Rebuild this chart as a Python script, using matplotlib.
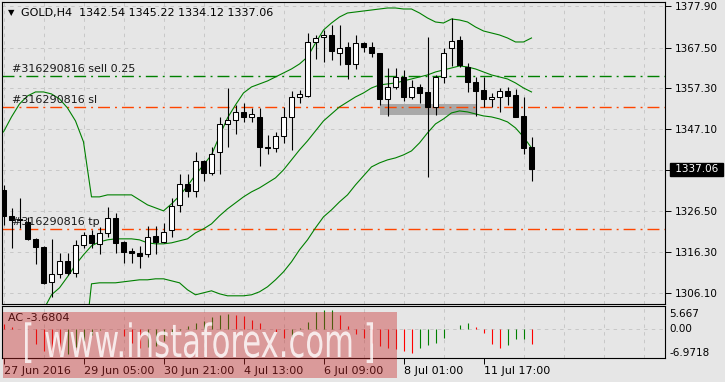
import numpy as np
import matplotlib
matplotlib.use('Agg')
import matplotlib.pyplot as plt
import matplotlib.transforms as mtransforms
from matplotlib.patches import Rectangle, PathPatch
from matplotlib.textpath import TextPath
from matplotlib.font_manager import FontProperties

# GOLD H4 bars, 27 Jun - 12 Jul 2016
opens = [1331.9, 1325.4, 1324.65, 1323.9, 1319.65, 1317.65, 1308.9, 1310.9, 1314.15, 1311.15,
         1318.15, 1320.65, 1318.4, 1321.15, 1324.9, 1318.9, 1316.65, 1316.15, 1315.9, 1320.4,
         1318.9, 1321.9, 1328.15, 1333.4, 1331.65, 1339.15, 1336.15, 1341.4, 1348.4, 1349.4,
         1351.4, 1350.15, 1350.15, 1342.65, 1342.4, 1345.4, 1350.15, 1355.15, 1355.4, 1368.9,
         1370.15, 1370.65, 1366.15, 1367.65, 1363.4, 1368.65, 1367.65, 1366.15, 1354.65, 1357.65,
         1360.15, 1355.15, 1357.65, 1356.4, 1352.65, 1360.15, 1367.4, 1369.4, 1362.65, 1358.9,
         1356.9, 1354.65, 1355.15, 1356.65, 1355.65, 1350.4, 1342.54]
highs = [1333.15, 1327.3, 1329.9, 1325.15, 1319.9, 1317.9, 1319.65, 1316.15, 1316.15, 1319.4,
         1321.4, 1321.9, 1322.65, 1327.65, 1326.15, 1319.15, 1317.4, 1317.9, 1322.9, 1322.9,
         1323.65, 1329.9, 1335.9, 1335.9, 1341.4, 1339.4, 1342.65, 1350.15, 1357.4, 1353.15,
         1353.65, 1352.4, 1352.4, 1345.65, 1346.4, 1352.65, 1356.65, 1356.9, 1371.15, 1370.65,
         1371.9, 1373.15, 1373.15, 1368.9, 1370.65, 1368.9, 1368.9, 1366.15, 1362.4, 1362.4,
         1361.9, 1359.4, 1358.4, 1370.15, 1360.65, 1367.4, 1374.9, 1370.4, 1363.65, 1360.15,
         1360.15, 1356.15, 1357.4, 1357.65, 1357.15, 1355.15, 1345.22]
lows = [1323.15, 1317.3, 1322.4, 1319.4, 1313.4, 1308.4, 1305.15, 1309.9, 1310.65, 1310.15,
        1317.4, 1317.4, 1315.9, 1320.15, 1316.15, 1313.65, 1313.65, 1312.4, 1315.15, 1315.9,
        1318.65, 1320.15, 1326.4, 1330.15, 1330.15, 1334.15, 1335.65, 1335.9, 1342.65, 1345.9,
        1348.9, 1348.9, 1337.9, 1340.9, 1341.4, 1343.65, 1341.9, 1353.65, 1355.15, 1364.65,
        1363.9, 1364.4, 1363.15, 1359.65, 1362.15, 1366.4, 1365.15, 1353.15, 1350.4, 1357.15,
        1354.15, 1354.65, 1353.65, 1335.15, 1350.65, 1358.65, 1362.9, 1362.65, 1356.4, 1350.4,
        1352.65, 1352.65, 1351.4, 1353.15, 1350.15, 1340.9, 1334.12]
closes = [1325.4, 1324.3, 1324.4, 1319.65, 1317.65, 1308.65, 1310.9, 1314.15, 1311.15, 1318.15,
          1320.65, 1318.65, 1321.15, 1324.9, 1318.65, 1316.4, 1316.15, 1315.4, 1320.15, 1318.9,
          1321.4, 1327.9, 1333.4, 1331.65, 1339.15, 1336.15, 1340.9, 1348.4, 1349.4, 1351.4,
          1350.15, 1350.9, 1342.65, 1342.4, 1345.4, 1350.15, 1355.15, 1355.9, 1368.9, 1369.9,
          1370.65, 1366.65, 1367.4, 1363.4, 1368.65, 1367.65, 1366.15, 1354.65, 1357.65, 1360.15,
          1355.15, 1357.65, 1356.15, 1352.65, 1360.15, 1366.15, 1369.15, 1363.15, 1358.9, 1356.65,
          1354.65, 1355.15, 1356.65, 1355.4, 1350.15, 1342.4, 1337.06]

# Bollinger bands (nan = below the visible range)
bb_upper = [1346.4, 1350.15, 1353.4, 1355.4, 1356.4, 1356.4, 1355.9, 1354.65, 1352.4, 1349.15,
            1343.9, 1330.15, 1330.15, 1330.65, 1330.65, 1330.65, 1330.65, 1329.4, 1328.15, 1327.4,
            1326.65, 1328.4, 1330.4, 1332.9, 1335.65, 1338.15, 1340.65, 1345.4, 1349.9, 1353.15,
            1356.15, 1357.65, 1358.4, 1359.15, 1360.15, 1361.15, 1362.15, 1363.4, 1365.15, 1368.65,
            1371.9, 1373.65, 1375.15, 1376.15, 1376.4, 1376.65, 1376.9, 1377.15, 1377.4, 1377.4,
            1377.15, 1377.15, 1376.15, 1374.9, 1373.9, 1373.65, 1374.65, 1374.4, 1373.9, 1372.65,
            1371.65, 1371.15, 1370.65, 1369.9, 1368.9, 1368.9, 1369.9]
bb_mid = [np.nan, np.nan, np.nan, np.nan, np.nan, 1301.9, 1305.65, 1307.4, 1310.15, 1313.15,
          1315.65, 1317.9, 1318.9, 1319.4, 1319.65, 1319.65, 1319.65, 1319.4, 1318.65, 1318.4,
          1318.4, 1318.65, 1319.15, 1319.65, 1321.15, 1322.15, 1323.4, 1325.4, 1327.15, 1328.65,
          1330.15, 1331.4, 1332.4, 1333.65, 1334.9, 1336.9, 1339.4, 1341.9, 1344.15, 1346.65,
          1349.15, 1350.9, 1352.65, 1353.9, 1355.15, 1356.15, 1357.4, 1358.15, 1358.4, 1358.65,
          1359.15, 1359.65, 1360.15, 1360.65, 1361.4, 1361.9, 1362.4, 1362.9, 1362.65, 1362.15,
          1361.4, 1360.65, 1360.15, 1359.65, 1358.65, 1357.4, 1356.4]
bb_lower = [np.nan, np.nan, np.nan, np.nan, np.nan, np.nan, np.nan, np.nan, np.nan, np.nan,
            1290.0, 1308.4, 1308.65, 1308.65, 1308.65, 1308.9, 1309.15, 1309.4, 1309.4, 1309.65,
            1309.65, 1309.15, 1308.65, 1306.9, 1305.65, 1306.15, 1306.65, 1305.9, 1305.4, 1305.4,
            1305.4, 1305.65, 1306.4, 1307.65, 1309.4, 1311.4, 1313.9, 1316.9, 1319.4, 1322.4,
            1325.15, 1326.9, 1328.9, 1330.65, 1333.15, 1335.4, 1337.65, 1338.65, 1339.4, 1339.9,
            1340.65, 1341.65, 1343.65, 1346.15, 1348.4, 1349.65, 1351.15, 1351.65, 1351.4, 1350.9,
            1350.4, 1350.15, 1349.65, 1348.9, 1347.4, 1345.15, 1342.4]

# Accelerator oscillator
ac = [1.2, 0.6, 0.1, -0.1, -3.7, -5.3, -5.8, -6.4, -6.1, -4.3,
      -2.9, -1.5, -0.3, 0.1, -0.1, -1.6, -3.4, -4.6, -4.5, -4.2,
      -2.9, -1.2, -0.15, 0.85, 1.4, 2.1, 2.95, 3.4, 3.7, 3.5,
      3.25, 2.3, 1.5, 0.1, -0.6, -2.1, -1.9, 0.3, 1.8, 4.1,
      4.6, 4.75, 3.45, 0.8, -1.15, -2.2, -3.5, -4.1, -4.6, -4.85,
      -5.3, -5.8, -4.75, -4.0, -3.4, -2.1, 0.05, 0.98, 1.47, 0.55,
      -1.07, -3.7, -4.67, -3.85, -2.5, -2.4, -3.6804]
ac_max, ac_min = 5.667, -6.9718

price_ticks = [1377.90, 1367.50, 1357.30, 1347.10, 1336.80, 1326.50, 1316.30, 1306.10]
price_labels = ['1377.90', '1367.50', '1357.30', '1347.10', '', '1326.50', '1316.30', '1306.10']
last_price = 1337.06

date_pos = [0, 10, 20, 30, 40, 50, 60]
date_labels = ['27 Jun 2016', '29 Jun 05:00', '30 Jun 21:00', '4 Jul 13:00',
               '6 Jul 09:00', '8 Jul 01:00', '11 Jul 17:00']

order_levels = [1360.31, 1352.56, 1322.04]
order_names = ['#316290816 sell 0.25', '#316290816 sl', '#316290816 tp']
order_colors = ['#008000', '#FF4500', '#FF4500']

zone_start, zone_end = 47, 59
zone_low, zone_high = 1350.63, 1353.38

header = 'GOLD,H4  1342.54 1345.22 1334.12 1337.06'

plt.rcParams['font.family'] = 'DejaVu Sans'
plt.rcParams['lines.scale_dashes'] = False

W, H = 725, 382
bg = '#E6E6E6'
gridc = '#C8C8C8'
grid_ls = (0, (2.5, 3))

fig = plt.figure(figsize=(W / 100, H / 100), dpi=100, facecolor=bg)
ax = fig.add_axes([2 / W, 78 / H, 663 / W, 302 / H], facecolor=bg)
ax2 = fig.add_axes([2 / W, 24.5 / H, 663 / W, 51.5 / H], facecolor=bg)

x = np.arange(len(opens))
o = np.array(opens)
c = np.array(closes)
xlim = (-0.1875, -0.1875 + 663 / 8)

# main price panel
ax.set_xlim(*xlim)
ax.set_ylim(1303.35, 1378.90)
ax.set_axisbelow(True)

ax.add_patch(Rectangle((zone_start, zone_low), zone_end - zone_start, zone_high - zone_low,
                       fc='#A9A9A9', ec='none', zorder=1.5))

data_trans = mtransforms.blended_transform_factory(ax.transAxes, ax.transData)
label_trans = mtransforms.offset_copy(data_trans, fig=fig, x=0, y=7, units='dots')
for lvl, name, col in zip(order_levels, order_names, order_colors):
    ax.axhline(lvl, color=col, lw=1.0, ls=(0, (8.6, 3.6, 1.4, 3.6)), zorder=2.5)
    ax.text(10 / 663, lvl, name, transform=label_trans, va='center', ha='left',
            fontsize=8, color='#1A1A1A', zorder=6)

ax.plot(x, bb_upper, color='#008000', lw=0.8, zorder=2.6)
ax.plot(x, bb_mid, color='#008000', lw=0.8, zorder=2.6)
ax.plot(x, bb_lower, color='#008000', lw=0.8, zorder=2.6)

up = c >= o
ax.vlines(x, lows, highs, color='black', lw=0.8, zorder=3)
ax.bar(x, np.maximum(np.abs(c - o), 0.15), bottom=np.minimum(o, c), width=0.55,
       color=np.where(up, 'white', 'black'), edgecolor='black', lw=0.75, zorder=4)

ax.set_xticks([])
ax.set_xticks(np.arange(0, 83, 5), minor=True)
ax.tick_params(axis='x', which='both', length=0)
ax.grid(axis='x', which='minor', color=gridc, ls=grid_ls, lw=0.7)
ax.yaxis.tick_right()
ax.set_yticks(price_ticks)
ax.set_yticklabels(price_labels)
ax.tick_params(axis='y', direction='out', length=4, width=0.7, pad=3, labelsize=7.5)
ax.grid(axis='y', color=gridc, ls=grid_ls, lw=0.7)

ax.text(1 + 7 / 663, last_price, ' ' + f'{last_price:.2f}' + ' ', transform=data_trans,
        va='center', ha='left', fontsize=7.5, color='white', clip_on=False, zorder=7,
        bbox=dict(boxstyle='square,pad=0.15', fc='black', ec='black'))

fig.text(8 / W, 1 - 13 / H, '\u25bc', fontsize=6, va='center', ha='left')
fig.text(21 / W, 1 - 13 / H, header, fontsize=8, va='center', ha='left')

# AC panel
ax2.set_xlim(*xlim)
ax2.set_ylim(ac_min, ac_max)
ac_arr = np.array(ac)
rising = np.concatenate([[False], ac_arr[1:] > ac_arr[:-1]])
ax2.vlines(x, 0, ac_arr, colors=np.where(rising, '#008000', '#FF0000'), lw=0.8, zorder=3)
ax2.axhline(0, color=gridc, ls=grid_ls, lw=0.7, zorder=1)

ax2.set_xticks(date_pos)
ax2.set_xticklabels(date_labels, ha='left', fontsize=8)
ax2.set_xticks(np.arange(0, 83, 5), minor=True)
ax2.tick_params(axis='x', which='major', direction='out', length=4, width=0.7, pad=2)
ax2.tick_params(axis='x', which='minor', length=0)
ax2.grid(axis='x', which='minor', color=gridc, ls=grid_ls, lw=0.7)
ax2.set_axisbelow(True)
ax2.set_yticks([])

sub_trans = mtransforms.blended_transform_factory(ax2.transAxes, ax2.transData)
ax2.text(1 + 4 / 663, ac_max, f'{ac_max:.3f}', transform=mtransforms.offset_copy(
    sub_trans, fig=fig, y=-3, units='dots'), va='top', ha='left', fontsize=7.5, clip_on=False)
ax2.text(1 + 4 / 663, 0, '0.00', transform=sub_trans, va='center', ha='left',
         fontsize=7.5, clip_on=False)
ax2.text(1 + 4 / 663, ac_min, f'{ac_min:.4f}', transform=sub_trans, va='bottom', ha='left',
         fontsize=7.5, clip_on=False)
ax2.text(6 / 663, 1 - 12 / 51.5, f'AC {ac[-1]:.4f}', transform=ax2.transAxes,
         va='center', ha='left', fontsize=8)

for a in (ax, ax2):
    for s in a.spines.values():
        s.set_linewidth(0.8)
        s.set_color('black')

# watermark
fig.add_artist(Rectangle((3 / W, 4 / H), 394 / W, 66 / H, transform=fig.transFigure,
                         fc='#C82828', ec='none', alpha=0.4, zorder=10))
fp = FontProperties(family='DejaVu Sans')
wm = TextPath((0, 0), '[ www.instaforex.com ]', size=1, prop=fp)
wb = wm.get_extents()
xh = TextPath((0, 0), 'x', size=1, prop=fp).get_extents().height
sx = 348 / wb.width
sy = 25 / xh
wm_trans = (mtransforms.Affine2D().scale(sx, sy).translate(25 - wb.x0 * sx, 25)
            .scale(1 / W, 1 / H) + fig.transFigure)
fig.add_artist(PathPatch(wm, transform=wm_trans, fc='white', ec='none', alpha=0.8, zorder=11))

fig.savefig('out.png', dpi=100, facecolor=bg)
